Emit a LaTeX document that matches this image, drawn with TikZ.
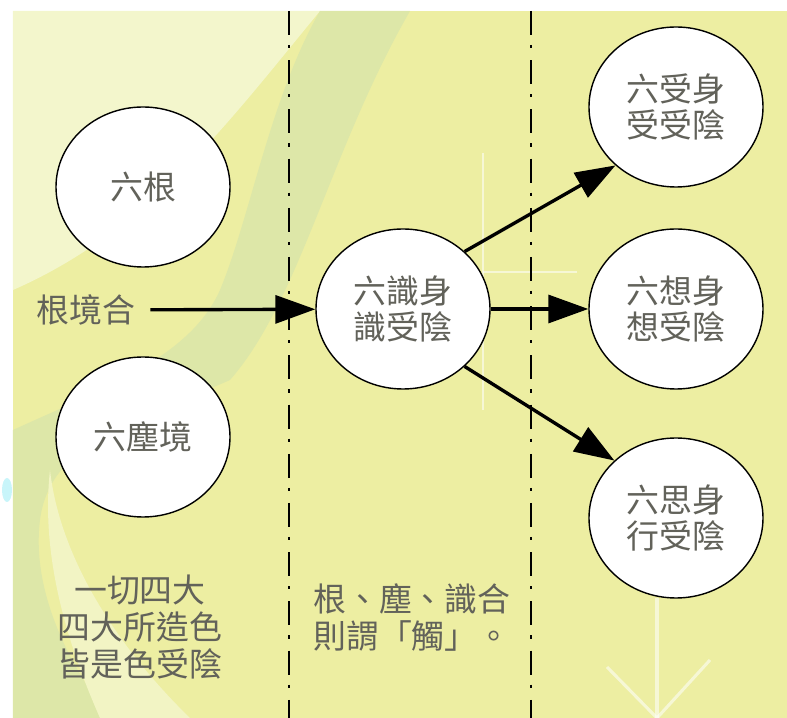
\documentclass[tikz,border=0pt]{standalone}
\usepackage{fontspec}
\usepackage{xcolor}
\usepackage{tikz}
\usetikzlibrary{arrows.meta, shapes.geometric}
\newfontfamily\cjk{Noto Sans CJK TC}
\definecolor{bgyellow}{RGB}{237,238,162}
\definecolor{bgpale}{RGB}{243,246,204}
\definecolor{bggreen}{RGB}{221,231,168}
\definecolor{bgband}{RGB}{242,244,196}
\definecolor{txtgray}{RGB}{98,98,90}
\definecolor{blobcyan}{RGB}{200,245,250}

\begin{document}
\begin{tikzpicture}[thick,
        yin/.style={ellipse, draw, line width=1pt, fill=white, minimum width=4.35cm, minimum height=4cm, inner sep=0pt, align=center, text=txtgray},
        jian/.style={-{Triangle[length=1cm, width=0.7cm]}, line width=2.4pt},
        fenjie/.style={line width=1.4pt, dash pattern=on 0.6cm off 0.25cm on 0.08cm off 0.3cm},
        faint/.style={white, opacity=0.55, line width=1.6pt},
        every node/.style={font=\cjk\fontsize{23.4}{26.2}\selectfont}]
            \useasboundingbox (0, 0) rectangle (19.675, 17.95);

            % background
            \fill[bgyellow] (0.325, 0) rectangle (19.675, 17.675);
            \fill[bgpale] (0.325, 17.675) -- (8, 17.675) .. controls (5.75, 14.95) and (3.75, 12.2) .. (0.325, 10.7) -- cycle;
            \fill[bggreen] (8, 17.675) -- (10.25, 17.675) .. controls (8.25, 14.2) and (7.5, 10.45) .. (5.75, 8.45)
                .. controls (3.5, 7.45) and (1.25, 6.95) .. (1, 4.95)
                .. controls (0.75, 2.95) and (2, 0.95) .. (2.75, 0) -- (0.325, 0) -- (0.325, 7.2)
                .. controls (2.5, 8.2) and (4.75, 9) .. (5.5, 10.7)
                .. controls (6.25, 12.5) and (6.75, 15.5) .. (8, 17.675);
            \fill[bgband] (1.25, 6.2) .. controls (1, 3.95) and (1.75, 1.7) .. (2.5, 0) -- (4.75, 0)
                .. controls (3, 1.7) and (1.5, 3.95) .. (1.25, 6.2);
            \fill[blobcyan] (0.175, 5.7) ellipse (0.125 and 0.3);
            \draw[faint] (12.075, 14.125) -- (12.075, 7.7);
            \draw[faint] (12.075, 11.15) -- (14.425, 11.15);
            \draw[faint, line width=2.2pt] (16.425, 3.0) -- (16.425, 0);
            \draw[faint, line width=2.2pt] (15.175, 1.275) -- (16.425, 0) -- (17.75, 1.45);

            % dividers
            \coordinate (l1t) at (7.225, 17.675);
            \coordinate (l1b) at (7.225, 0);
            \coordinate (l2t) at (13.275, 17.675);
            \coordinate (l2b) at (13.275, 0);
            \draw[fenjie] (l1t) -- (l1b);
            \draw[fenjie] (l2t) -- (l2b);

            \node[yin] at (3.575, 13.275)  (gen)   {六根};
            \node[yin] at (3.575, 7.025)   (chen)  {六塵境};
            \node[yin] at (10.075, 10.225) (shi)   {六識身\\識受陰};
            \node[yin] at (16.9, 15.275)   (shou)  {六受身\\受受陰};
            \node[yin] at (16.9, 10.225)   (xiang) {六想身\\想受陰};
            \node[yin] at (16.9, 5.0)      (si)    {六思身\\行受陰};

            \node[text=txtgray] at (2.15, 10.2) (hejing) {根境合};
            \node[text=txtgray, align=center] at (3.5, 2.275) (sida) {一切四大\\四大所造色\\皆是色受陰};
            \node[text=txtgray, align=left, anchor=west] at (7.7, 2.51) (chu) {根、塵、識合\\則謂「觸」。};

            \draw [jian, shorten <=7pt] (hejing) -- (shi);
            \draw [jian] (shi.43) -- (shou.224);
            \draw [jian] (shi) -- (xiang);
            \draw [jian] (shi.-43) -- (si.137);
        \end{tikzpicture}
\end{document}
